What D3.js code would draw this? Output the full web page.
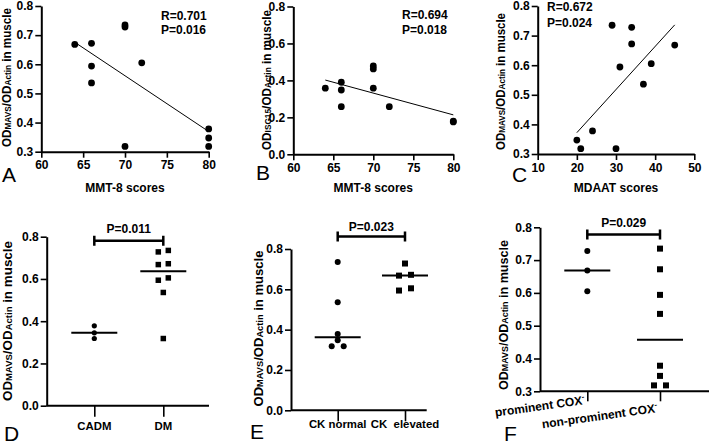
<!DOCTYPE html>
<html><head><meta charset="utf-8">
<script src="https://cdn.jsdelivr.net/npm/d3@7"></script>
<style>
html,body{margin:0;padding:0;background:#fff;}
svg{display:block;font-family:"Liberation Sans",Arial,Helvetica,sans-serif;}
</style></head><body>
<svg id="chart" width="709" height="446"></svg>
<script>
// ---------- data ----------
const mmtScoresA = [64,66,66,66,70,70,72,70,80,80,80];
const mavsA = [0.668,0.672,0.594,0.536,0.735,0.728,0.605,0.318,0.378,0.347,0.318];
const mmtScoresB = [64,66,66,66,70,70,70,72,80,80];
const isg15B = [0.358,0.390,0.348,0.258,0.478,0.462,0.358,0.258,0.180,0.175];
const mdaatScoresC = [20,21,24,29,30,31,34,34,37,39,45];
const mavsC = [0.347,0.318,0.378,0.735,0.318,0.594,0.728,0.672,0.536,0.605,0.668];

const groupsD = ["CADM","DM"];
const mavsCADM = [0.378,0.345,0.318];
const mavsDM = [0.735,0.728,0.672,0.668,0.605,0.594,0.536,0.318];
const groupsE = ["CK normal","CK  elevated"];
const mavsCKNormal = [0.735,0.536,0.378,0.347,0.318,0.318];
const mavsCKElevated = [0.728,0.672,0.668,0.605,0.594];
const groupsF = ["prominent COX","non-prominent COX"];
const mavsCOXProminent = [0.728,0.668,0.605];
const mavsCOXNonProminent = [0.735,0.672,0.594,0.536,0.378,0.347,0.318,0.318];

const ticksMMT = [60,65,70,75,80];
const ticksMDAAT = [10,20,30,40,50];
const ticksY03 = [0.3,0.4,0.5,0.6,0.7,0.8];
const ticksY00 = [0.0,0.2,0.4,0.6,0.8];
const statsA = ["R=0.701","P=0.016"];
const statsB = ["R=0.694","P=0.018"];
const statsC = ["R=0.672","P=0.024"];
const pValueD = "P=0.011", pValueE = "P=0.023", pValueF = "P=0.029";

// ---------- helpers ----------
const svg = d3.select("#chart");
const fmt1 = d3.format(".1f");

function styleAxis(g){
  g.select(".domain").attr("stroke","#000").attr("stroke-width",2);
  g.selectAll(".tick line").attr("stroke","#000").attr("stroke-width",1.6);
  g.selectAll(".tick text").attr("fill","#000").attr("font-size",12)
    .attr("font-weight","bold").attr("font-family",'"Liberation Sans",Arial,sans-serif');
}
function yLabel(g, x, y, sub, len){
  const t = g.append("text").attr("transform",`translate(${x},${y}) rotate(-90)`)
    .attr("text-anchor","middle").attr("font-weight","bold").attr("font-size",12)
    .attr("textLength",len).attr("lengthAdjust","spacingAndGlyphs");
  t.append("tspan").text("OD");
  t.append("tspan").attr("font-size",8.5).text(sub);
  t.append("tspan").text("/OD");
  t.append("tspan").attr("font-size",8.5).text("Actin");
  t.append("tspan").text(" in muscle");
}
function letter(g, s, x, y){
  g.append("text").attr("x",x).attr("y",y).attr("font-size",21).text(s);
}
function boldText(g, s, x, y, anchor, size){
  return g.append("text").attr("x",x).attr("y",y).attr("font-size",size||12)
    .attr("font-weight","bold").attr("text-anchor",anchor||"start").text(s);
}

function scatterPanel(o){
  const x = d3.scaleLinear().domain(o.xDomain).range(o.xRange);
  const y = d3.scaleLinear().domain(o.yDomain).range(o.yRange);
  const g = svg.append("g");
  g.append("g").attr("transform",`translate(0,${o.yRange[0]})`)
    .call(d3.axisBottom(x).tickValues(o.xTicks).tickSize(6).tickPadding(3).tickSizeOuter(0))
    .call(styleAxis);
  g.append("g").attr("transform",`translate(${o.xRange[0]},0)`)
    .call(d3.axisLeft(y).tickValues(o.yTicks).tickFormat(fmt1).tickSize(6).tickPadding(2).tickSizeOuter(0))
    .call(styleAxis);
  // least-squares line over data extent
  const mx = d3.mean(o.xs), my = d3.mean(o.ys);
  let sxy = 0, sxx = 0;
  o.xs.forEach((v,i)=>{ sxy += (v-mx)*(o.ys[i]-my); sxx += (v-mx)*(v-mx); });
  const b = sxy/sxx, a = my - b*mx;
  const [x0,x1] = d3.extent(o.xs);
  g.append("line").attr("x1",x(x0)).attr("y1",y(a+b*x0)).attr("x2",x(x1)).attr("y2",y(a+b*x1))
    .attr("stroke","#000").attr("stroke-width",1);
  g.selectAll("circle.pt").data(o.xs).join("circle").attr("class","pt")
    .attr("cx",d=>x(d)).attr("cy",(d,i)=>y(o.ys[i])).attr("r",o.r).attr("fill","#000");
  o.stats.forEach((s,i)=> boldText(g, s, o.statsX, o.statsY[i]));
  boldText(g, o.xLabel, (o.xRange[0]+o.xRange[1])/2, o.xLabelY, "middle");
  yLabel(g, o.yLabelX, o.yLabelY, o.sub, o.yLabelLen);
  letter(g, o.letter, o.letterX, o.letterY);
}

function dodge(vals, y, thresh, w){
  const idx = d3.range(vals.length).sort((a,b)=>vals[a]-vals[b]);
  const off = new Array(vals.length).fill(0);
  let grp = [];
  const flush = ()=>{ grp.forEach((k,j)=> off[k] = (j-(grp.length-1)/2)*w); grp = []; };
  idx.forEach(k=>{
    if (grp.length && Math.abs(y(vals[k]) - y(vals[grp[0]])) >= thresh) flush();
    grp.push(k);
  });
  flush();
  return off;
}

function dotPanel(o){
  const y = d3.scaleLinear().domain(o.yDomain).range(o.yRange);
  const x = d3.scalePoint().domain(o.groups).range(o.catRange);
  const g = svg.append("g");
  const xa = g.append("g").attr("transform",`translate(0,${o.yRange[0]})`)
    .call(d3.axisBottom(x).tickSize(o.tickLen).tickPadding(3).tickSizeOuter(0).tickFormat(()=>""))
    .call(styleAxis);
  xa.select(".domain").remove();
  g.append("line").attr("x1",o.axisX[0]).attr("x2",o.axisX[1])
    .attr("y1",o.yRange[0]).attr("y2",o.yRange[0]).attr("stroke","#000").attr("stroke-width",2);
  g.append("g").attr("transform",`translate(${o.axisX[0]},0)`)
    .call(d3.axisLeft(y).tickValues(o.yTicks).tickFormat(fmt1).tickSize(6).tickPadding(2).tickSizeOuter(0))
    .call(styleAxis);
  // category labels
  o.groups.forEach((c,i)=>{
    if (o.rotated){
      const t = g.append("text").attr("text-anchor","end").attr("font-size",12).attr("font-weight","bold")
        .attr("transform",`translate(${x(c)+o.labelDx},${o.labelY[i]}) rotate(${o.rotated})`);
      t.append("tspan").text(c);
      t.append("tspan").attr("font-size",8).attr("dy",-5).text("-");
    } else {
      boldText(g, c, x(c), o.labelY[0], "middle", 11.4).style("white-space","pre");
    }
  });
  // points + medians
  o.series.forEach((vals,i)=>{
    const cx = x(o.groups[i]);
    const off = dodge(vals, y, 5, o.dodgeW);
    if (o.shapes[i] === "circle"){
      g.selectAll(null).data(vals).join("circle")
        .attr("cx",(d,k)=>cx+off[k]).attr("cy",d=>y(d)).attr("r",o.r).attr("fill","#000");
    } else {
      g.selectAll(null).data(vals).join("rect")
        .attr("x",(d,k)=>cx+off[k]-o.sq/2).attr("y",d=>y(d)-o.sq/2)
        .attr("width",o.sq).attr("height",o.sq).attr("fill","#000");
    }
    const med = d3.median(vals);
    g.append("line").attr("x1",cx-23).attr("x2",cx+23).attr("y1",y(med)).attr("y2",y(med))
      .attr("stroke","#000").attr("stroke-width",2);
  });
  // significance bracket
  const bx0 = x(o.groups[0]), bx1 = x(o.groups[1]);
  g.append("path").attr("d",`M${bx0},${o.bracketY-5}V${o.bracketY+5}M${bx0},${o.bracketY}H${bx1}M${bx1},${o.bracketY-5}V${o.bracketY+5}`)
    .attr("stroke","#000").attr("stroke-width",2.5).attr("fill","none");
  boldText(g, o.pValue, (bx0+bx1)/2, o.pY, "middle");
  yLabel(g, o.yLabelX, o.yLabelY, "MAVS", o.yLabelLen);
  letter(g, o.letter, o.letterX, o.letterY);
}

// ---------- panels ----------
scatterPanel({xs:mmtScoresA, ys:mavsA, xDomain:[60,80], yDomain:[0.3,0.8],
  xRange:[41.3,208.7], yRange:[151.7,6], xTicks:ticksMMT, yTicks:ticksY03, r:3.4,
  stats:statsA, statsX:161, statsY:[20,33.5], xLabel:"MMT-8 scores", xLabelY:192,
  sub:"MAVS", yLabelX:11, yLabelY:77.5, yLabelLen:139, letter:"A", letterX:2, letterY:182});
scatterPanel({xs:mmtScoresB, ys:isg15B, xDomain:[60,80], yDomain:[0,0.8],
  xRange:[293.3,453.3], yRange:[154.3,6.5], xTicks:ticksMMT, yTicks:ticksY00, r:3.4,
  stats:statsB, statsX:402, statsY:[19,33.5], xLabel:"MMT-8 scores", xLabelY:192,
  sub:"ISG15", yLabelX:270.5, yLabelY:80, yLabelLen:140, letter:"B", letterX:256, letterY:180});
scatterPanel({xs:mdaatScoresC, ys:mavsC, xDomain:[10,50], yDomain:[0.3,0.8],
  xRange:[537.7,694.3], yRange:[154,6], xTicks:ticksMDAAT, yTicks:ticksY03, r:3.4,
  stats:statsC, statsX:547, statsY:[11,26.5], xLabel:"MDAAT scores", xLabelY:192,
  sub:"MAVS", yLabelX:505, yLabelY:81.5, yLabelLen:137, letter:"C", letterX:512, letterY:182});

dotPanel({groups:groupsD, series:[mavsCADM, mavsDM], shapes:["circle","square"],
  yDomain:[0,0.8], yRange:[405.7,236.7], yTicks:ticksY00, catRange:[94.3,163.3],
  axisX:[46.7,209], tickLen:11, labelY:[430], r:2.6, sq:5.5, dodgeW:10,
  bracketY:240.7, pValue:pValueD, pY:233, yLabelX:12, yLabelY:321, yLabelLen:160,
  letter:"D", letterX:4, letterY:441});
dotPanel({groups:groupsE, series:[mavsCKNormal, mavsCKElevated], shapes:["circle","square"],
  yDomain:[0,0.8], yRange:[410.3,249], yTicks:ticksY00, catRange:[337.7,405],
  axisX:[291,426.7], tickLen:11, labelY:[428], r:3, sq:6, dodgeW:12,
  bracketY:236.5, pValue:pValueE, pY:230.5, yLabelX:262.5, yLabelY:328.5, yLabelLen:156,
  letter:"E", letterX:250, letterY:439});
dotPanel({groups:groupsF, series:[mavsCOXProminent, mavsCOXNonProminent], shapes:["circle","square"],
  yDomain:[0.3,0.8], yRange:[391.3,227.3], yTicks:ticksY03, catRange:[587.3,660],
  axisX:[540,709], tickLen:10, labelY:[404,412], labelDx:-2, rotated:-8, r:3, sq:6, dodgeW:12,
  bracketY:234.5, pValue:pValueF, pY:227, yLabelX:507.5, yLabelY:315, yLabelLen:150,
  letter:"F", letterX:504, letterY:441});
</script>
</body></html>
